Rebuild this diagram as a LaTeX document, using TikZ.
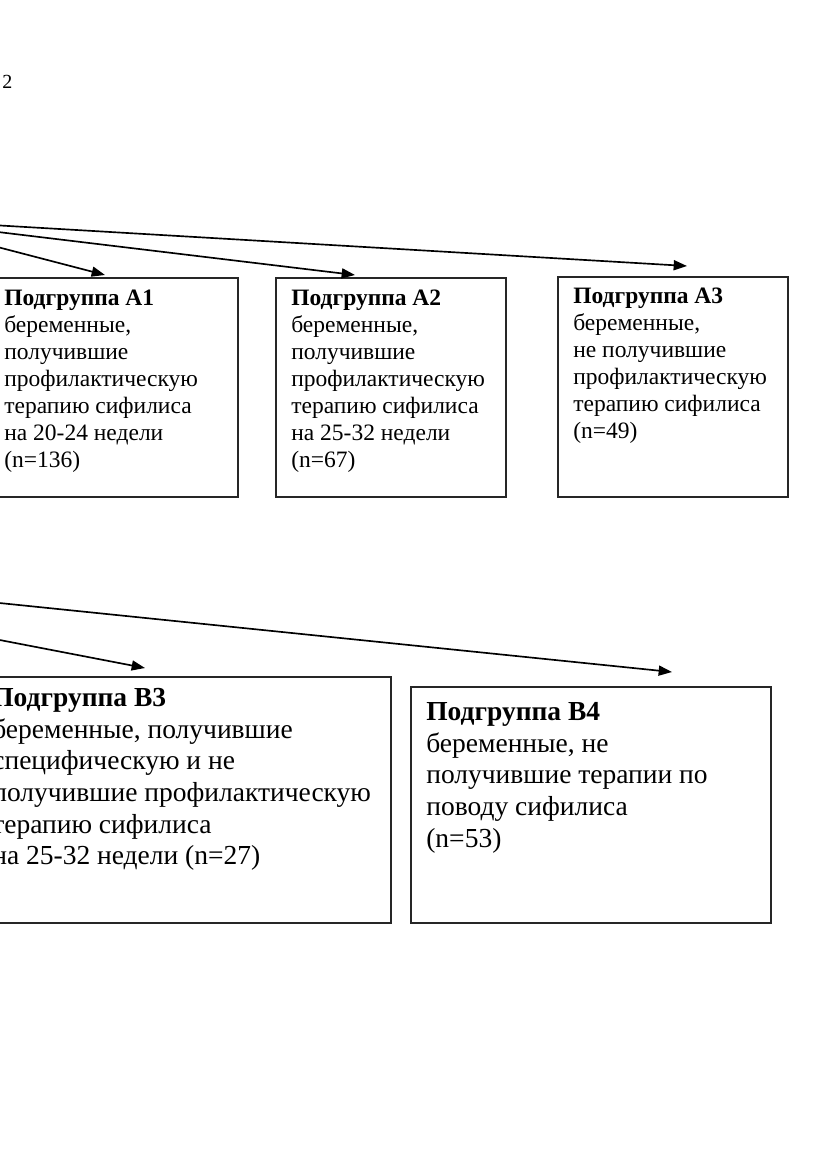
\documentclass[tikz,border=0pt]{standalone}
\usepackage{fontspec}
\setmainfont{Liberation Serif}
\usetikzlibrary{arrows.meta,positioning}
\def\px{0.6pt}

\begin{document}
\begin{tikzpicture}[x=0.6pt, y=-0.6pt, >={Triangle[length=8pt,width=6pt]},
  grp/.style={draw=black!85, line width=0.9pt, inner sep=0pt, anchor=north west},
  ta/.style={anchor=north west, inner sep=0pt, align=left, font=\fontsize{14.1}{16.2}\selectfont},
  tb/.style={anchor=north west, inner sep=0pt, align=left, font=\fontsize{16.5}{19}\selectfont},
  ar/.style={->, line width=1pt}]
\useasboundingbox (0,0) rectangle (831,1174);
\clip (0,0) rectangle (831,1174);
\node[inner sep=0pt, anchor=base west, font=\fontsize{12}{14}\selectfont] (pg) at (2,88) {2};
% upper row
\coordinate (srca) at (-110,219);
\node[grp, minimum width=249*\px, minimum height=219*\px] (a1) at (-12,277) {};
\node[grp, minimum width=230*\px, minimum height=219*\px] (a2) at (275,277) {};
\node[grp, minimum width=230*\px, minimum height=220*\px] (a3) at (557,276) {};
\node[ta] (a1txt) at (4,290) {\textbf{Подгруппа А1}\\беременные,\\получившие\\профилактическую\\терапию сифилиса\\на 20-24 недели\\(n=136)};
\node[ta] (a2txt) at (291,290) {\textbf{Подгруппа А2}\\беременные,\\получившие\\профилактическую\\терапию сифилиса\\на 25-32 недели\\(n=67)};
\node[ta] (a3txt) at (573,288) {\textbf{Подгруппа А3}\\беременные,\\не получившие\\профилактическую\\терапию сифилиса\\(n=49)};
\coordinate (ina1) at (105,275);
\coordinate (ina2) at (355,275);
\coordinate (ina3) at (687,266);
\draw[ar] (srca) -- (ina1);
\draw[ar] (srca) -- (ina2);
\draw[ar] (srca) -- (ina3);
% lower row
\coordinate (srcb) at (-410,561);
\node[grp, minimum width=414*\px, minimum height=246*\px] (b3) at (-24,676) {};
\node[grp, minimum width=360*\px, minimum height=236*\px] (b4) at (410,686) {};
\node[tb] (b3txt) at (-8,688) {\textbf{Подгруппа В3}\\беременные, получившие\\специфическую и не\\получившие профилактическую\\терапию сифилиса\\на 25-32 недели (n=27)};
\node[tb] (b4txt) at (426,702) {\textbf{Подгруппа В4}\\беременные, не\\получившие терапии по\\поводу сифилиса\\(n=53)};
\coordinate (inb3) at (145,668);
\coordinate (inb4) at (672,672);
\draw[ar] (srcb) -- (inb3);
\draw[ar] (srcb) -- (inb4);
\end{tikzpicture}
\end{document}
